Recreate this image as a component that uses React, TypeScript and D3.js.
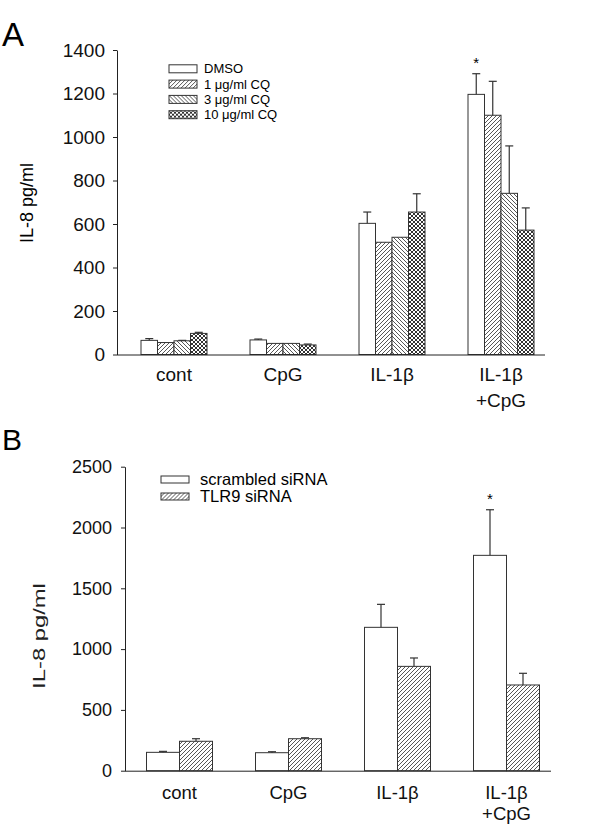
import React, { useEffect, useRef } from "react";
import * as d3 from "d3";

// categories shared by both panels
const categories = ["cont", "CpG", "IL-1β", "IL-1β+CpG"];
const categoryLines = [["cont"], ["CpG"], ["IL-1β"], ["IL-1β", "+CpG"]];

// panel A: chloroquine doses
const cqSeries = ["DMSO", "1 μg/ml CQ", "3 μg/ml CQ", "10 μg/ml CQ"];
const cqMeans = [
  [65, 55, 63, 97],
  [67, 51, 51, 44],
  [603, 516, 539, 655],
  [1196, 1100, 741, 572],
];
const cqErrors = [
  [8, 0, 2, 5],
  [4, 0, 0, 4],
  [52, 0, 0, 84],
  [95, 156, 218, 102],
];
const cqTicks = [0, 200, 400, 600, 800, 1000, 1200, 1400];

// panel B: siRNA
const sirnaSeries = ["scrambled siRNA", "TLR9 siRNA"];
const sirnaMeans = [
  [151, 242],
  [148, 263],
  [1179, 858],
  [1771, 705],
];
const sirnaErrors = [
  [8, 21],
  [8, 8],
  [189, 69],
  [375, 96],
];
const sirnaTicks = [0, 500, 1000, 1500, 2000, 2500];

const FONT = "'Liberation Sans', Arial, Helvetica, sans-serif";
const INK = "#222";

interface PanelProps {
  series: string[];
  means: number[][];
  errors: number[][];
  fills: string[];
  yMax: number;
  ticks: number[];
  top: number;
  bottom: number;
  axisX: number;
  axisEnd: number;
  bandStart: number;
  step: number;
  groupWidth: number;
  tickFont: number;
  tickPad: number;
  catFont: number;
  catBaselines: number[];
  starGroup: number;
}

function BarPanel(p: PanelProps) {
  const axisRef = useRef<SVGGElement>(null);
  const y = d3.scaleLinear().domain([0, p.yMax]).range([p.bottom, p.top]);
  const x0 = d3
    .scaleBand<string>()
    .domain(categories)
    .range([p.bandStart, p.bandStart + p.step * categories.length]);
  const x1 = d3
    .scaleBand<string>()
    .domain(p.series)
    .range([-p.groupWidth / 2, p.groupWidth / 2]);

  useEffect(() => {
    const g = d3.select(axisRef.current);
    g.selectAll("*").remove();
    g.call(
      d3
        .axisLeft(y)
        .tickValues(p.ticks)
        .tickSize(4)
        .tickSizeOuter(0)
        .tickPadding(p.tickPad)
        .tickFormat(d3.format("d"))
    );
    g.select(".domain").attr("stroke", INK);
    g.selectAll(".tick line").attr("stroke", INK);
    g.selectAll(".tick text")
      .attr("font-size", p.tickFont)
      .attr("font-family", FONT)
      .attr("fill", "#111");
  });

  return (
    <g>
      {categories.map((c, i) => {
        const cx = (x0(c) as number) + x0.bandwidth() / 2;
        return (
          <g key={c}>
            {p.series.map((s, j) => {
              const v = p.means[i][j];
              const e = p.errors[i][j];
              const bx = cx + (x1(s) as number);
              const mid = bx + x1.bandwidth() / 2;
              return (
                <g key={s}>
                  <rect
                    x={bx}
                    y={y(v)}
                    width={x1.bandwidth()}
                    height={p.bottom - y(v)}
                    fill={p.fills[j]}
                    stroke="#333"
                    strokeWidth={1}
                  />
                  {e > 0 && (
                    <g stroke="#333" strokeWidth={1.2}>
                      <line x1={mid} x2={mid} y1={y(v)} y2={y(v + e)} />
                      <line x1={mid - 4} x2={mid + 4} y1={y(v + e)} y2={y(v + e)} />
                    </g>
                  )}
                  {i === p.starGroup && j === 0 && (
                    <text
                      x={mid}
                      y={y(v + e) - 6}
                      textAnchor="middle"
                      fontSize={15}
                      fontFamily={FONT}
                    >
                      *
                    </text>
                  )}
                </g>
              );
            })}
            <text textAnchor="middle" fontSize={p.catFont} fontFamily={FONT} fill="#111">
              {categoryLines[i].map((t, k) => (
                <tspan key={k} x={cx} y={p.catBaselines[k]}>
                  {t}
                </tspan>
              ))}
            </text>
          </g>
        );
      })}
      <line x1={p.axisX} x2={p.axisEnd} y1={p.bottom + 0.5} y2={p.bottom + 0.5} stroke={INK} />
      <g ref={axisRef} transform={`translate(${p.axisX},0)`} />
    </g>
  );
}

export default function App() {
  const cqFills = ["#fff", "url(#fwd)", "url(#back)", "url(#cross)"];
  const sirnaFills = ["#fff", "url(#fwdB)"];
  return (
    <svg
      width={600}
      height={826}
      style={{ position: "absolute", left: 0, top: 0, background: "#fff" }}
    >
      <defs>
        <pattern id="fwd" patternUnits="userSpaceOnUse" width={4} height={4}>
          <rect width={4} height={4} fill="#fff" />
          <path d="M-1,1 l2,-2 M0,4 l4,-4 M3,5 l2,-2" stroke="#444" strokeWidth={0.9} />
        </pattern>
        <pattern id="back" patternUnits="userSpaceOnUse" width={4} height={4}>
          <rect width={4} height={4} fill="#fff" />
          <path d="M-1,3 l2,2 M0,0 l4,4 M3,-1 l2,2" stroke="#444" strokeWidth={0.9} />
        </pattern>
        <pattern id="cross" patternUnits="userSpaceOnUse" width={4} height={4}>
          <rect width={4} height={4} fill="#fff" />
          <path
            d="M-1,1 l2,-2 M0,4 l4,-4 M3,5 l2,-2 M-1,3 l2,2 M0,0 l4,4 M3,-1 l2,2"
            stroke="#333"
            strokeWidth={1}
          />
        </pattern>
        <pattern id="fwdB" patternUnits="userSpaceOnUse" width={4} height={4}>
          <rect width={4} height={4} fill="#fff" />
          <path d="M-1,1 l2,-2 M0,4 l4,-4 M3,5 l2,-2" stroke="#444" strokeWidth={0.9} />
        </pattern>
      </defs>

      {/* panel A */}
      <text x={2} y={46} fontSize={33} fontFamily={FONT}>
        A
      </text>
      <text
        transform="translate(33,203) rotate(-90)"
        textAnchor="middle"
        fontSize={18}
        fontFamily={FONT}
      >
        IL-8 pg/ml
      </text>
      <BarPanel
        series={cqSeries}
        means={cqMeans}
        errors={cqErrors}
        fills={cqFills}
        yMax={1400}
        ticks={cqTicks}
        top={50}
        bottom={354.5}
        axisX={117}
        axisEnd={545}
        bandStart={119.5}
        step={109}
        groupWidth={66}
        tickFont={19}
        tickPad={8}
        catFont={19}
        catBaselines={[381, 407]}
        starGroup={3}
      />
      <g fontFamily={FONT} fontSize={13}>
        {cqSeries.map((s, j) => (
          <g key={s} transform={`translate(169,${68.8 + j * 15.3})`}>
            <rect x={0} y={-4} width={28} height={8} fill={cqFills[j]} stroke="#333" />
            <text x={35} dy="0.35em">
              {s}
            </text>
          </g>
        ))}
      </g>

      {/* panel B */}
      <text x={2} y={450} fontSize={30} fontFamily={FONT}>
        B
      </text>
      <text
        transform="translate(45,636) rotate(-90) scale(1.4,1)"
        textAnchor="middle"
        fontSize={17}
        fontFamily={FONT}
        fill="#222"
      >
        IL-8 pg/ml
      </text>
      <BarPanel
        series={sirnaSeries}
        means={sirnaMeans}
        errors={sirnaErrors}
        fills={sirnaFills}
        yMax={2500}
        ticks={sirnaTicks}
        top={466.7}
        bottom={770.7}
        axisX={125}
        axisEnd={551}
        bandStart={125}
        step={109}
        groupWidth={66}
        tickFont={18}
        tickPad={9}
        catFont={18.5}
        catBaselines={[799, 820]}
        starGroup={3}
      />
      <g fontFamily={FONT} fontSize={16.5}>
        {sirnaSeries.map((s, j) => (
          <g key={s} transform={`translate(161,${479.5 + j * 17})`}>
            <rect x={0} y={-3.5} width={28} height={7} fill={sirnaFills[j]} stroke="#333" />
            <text x={39} dy="0.35em">
              {s}
            </text>
          </g>
        ))}
      </g>
    </svg>
  );
}
